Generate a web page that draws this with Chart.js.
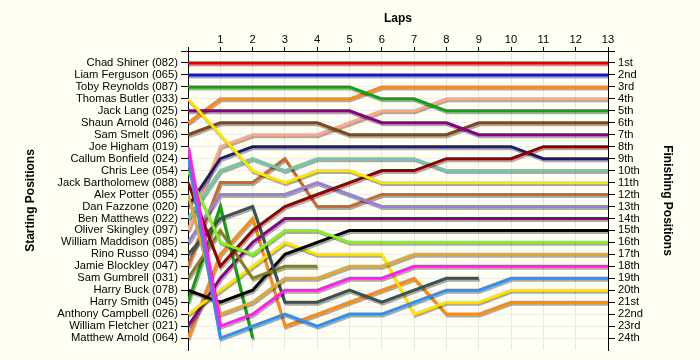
<!DOCTYPE html>
<html><head><meta charset="utf-8">
<script src="https://cdn.jsdelivr.net/npm/chart.js@4/dist/chart.umd.min.js"></script>
<style>html,body{margin:0;padding:0;background:#fffff4;}#wrap{width:700px;height:360px;}</style>
</head><body><div id="wrap"><canvas id="c" width="700" height="360"></canvas></div>
<script>
const laps = [0,1,2,3,4,5,6,7,8,9,10,11,12,13];
const startingNames = ['Chad Shiner (082)','Liam Ferguson (065)','Toby Reynolds (087)','Thomas Butler (033)','Jack Lang (025)','Shaun Arnold (046)','Sam Smelt (096)','Joe Higham (019)','Callum Bonfield (024)','Chris Lee (054)','Jack Bartholomew (088)','Alex Potter (055)','Dan Fazzone (020)','Ben Matthews (022)','Oliver Skingley (097)','William Maddison (085)','Rino Russo (094)','Jamie Blockley (047)','Sam Gumbrell (031)','Harry Buck (078)','Harry Smith (045)','Anthony Campbell (026)','William Fletcher (021)','Matthew Arnold (064)'];
const finishingLabels = ['1st','2nd','3rd','4th','5th','6th','7th','8th','9th','10th','11th','12th','13th','14th','15th','16th','17th','18th','19th','20th','21st','22nd','23rd','24th'];

const chadShiner      = [1,1,1,1,1,1,1,1,1,1,1,1,1,1];
const liamFerguson    = [2,2,2,2,2,2,2,2,2,2,2,2,2,2];
const tobyReynolds    = [3,3,3,3,3,3,4,4,5,5,5,5,5,5];
const thomasButler    = [4,7,10,11,10,10,11,11,11,11,11,11,11,11];
const jackLang        = [5,5,5,5,5,5,6,6,6,7,7,7,7,7];
const shaunArnold     = [6,4,4,4,4,4,3,3,3,3,3,3,3,3];
const samSmelt        = [7,6,6,6,6,7,7,7,7,6,6,6,6,6];
const joeHigham       = [8,23,22,20,20,19,19,18,18,18,18,18,18,18];
const callumBonfield  = [9,24,23,22,23,22,22,21,20,20,19,19,19,19];
const chrisLee        = [10,16,17,15,15,16,16,16,16,16,16,16,16,16];
const jackBartholomew = [11,18,15,13,12,11,10,10,9,9,9,8,8,8];
const alexPotter      = [12,22,21,19,19,18,18,17,17,17,17,17,17,17];
const danFazzone      = [13,9,8,8,8,8,8,8,8,8,8,9,9,9];
const benMatthews     = [14,10,9,10,9,9,9,9,10,10,10,10,10,10];
const oliverSkingley  = [15,8,7,7,7,6,5,5,4,4,4,4,4,4];
const williamMaddison = [16,12,12,12,11,12,13,13,13,13,13,13,13,13];
const rinoRusso       = [17,14,13,21,21,20,21,20,19,19];
const jamieBlockley   = [18,11,11,9,13,13,12,12,12,12,12,12,12,12];
const samGumbrell     = [19,15,19,18,18];
const harryBuck       = [20,21,20,17,16,15,15,15,15,15,15,15,15,15];
const harrySmith      = [21,13,24];
const anthonyCampbell = [22,20,18,16,17,17,17,22,21,21,20,20,20,20];
const williamFletcher = [23,19,16,14,14,14,14,14,14,14,14,14,14,14];
const matthewArnold   = [24,17,14,23,22,21,20,19,22,22,21,21,21,21];

const driverSeries = [chadShiner,liamFerguson,tobyReynolds,thomasButler,jackLang,shaunArnold,samSmelt,joeHigham,callumBonfield,chrisLee,jackBartholomew,alexPotter,danFazzone,benMatthews,oliverSkingley,williamMaddison,rinoRusso,jamieBlockley,samGumbrell,harryBuck,harrySmith,anthonyCampbell,williamFletcher,matthewArnold];

const lineColors = ['#e00000','#1515d0','#12a012','#ffe600','#880088','#ff8a10','#804818','#ff20f0','#3090f0','#88f020','#900000','#dcaa38','#1c1c6c','#70c8a8','#ffa888','#9880d8','#3c5050','#c86a30','#888020','#000000','#12a012','#ffe600','#880088','#ff8a10'];

const bgPlugin = {id:'bg', beforeDraw(chart){const c=chart.ctx;c.save();c.fillStyle='#fffff4';c.fillRect(0,0,chart.width,chart.height);c.restore();}};
const shadowPlugin = {id:'shadow',
  beforeDatasetDraw(chart){const c=chart.ctx;c.save();c.shadowColor='rgba(0,0,0,0.33)';c.shadowOffsetX=1;c.shadowOffsetY=2;c.shadowBlur=0;},
  afterDatasetDraw(chart){chart.ctx.restore();}};
const axisExtPlugin = {id:'axisExt', afterDraw(chart){const a=chart.chartArea,c=chart.ctx;c.save();c.strokeStyle='#000';c.lineWidth=1;c.beginPath();c.moveTo(a.left-7,a.top+0.5);c.lineTo(a.right+7,a.top+0.5);c.stroke();c.restore();}};

const datasets = driverSeries.map((s,i)=>({
  label: startingNames[i],
  data: s.map((v,k)=>({x:laps[k], y:v})),
  borderColor: lineColors[i],
  backgroundColor: lineColors[i],
  borderWidth: 3,
  pointRadius: 0,
  tension: 0,
  fill: false,
  yAxisID: 'y'
}));

const fontLbl = {family:'Liberation Sans, Arial, sans-serif', size:11.2};
const fontTitle = {family:'Liberation Sans, Arial, sans-serif', size:12, weight:'bold'};

new Chart(document.getElementById('c'), {
  type:'line',
  data:{datasets},
  plugins:[bgPlugin, shadowPlugin, axisExtPlugin],
  options:{
    responsive:false, animation:false, devicePixelRatio:1,
    layout:{padding:{left:0,right:0,top:0,bottom:10}},
    plugins:{legend:{display:false}, tooltip:{enabled:false}},
    scales:{
      x:{type:'linear', position:'top', min:0, max:13,
        afterBuildTicks(s){s.ticks = laps.map(v=>({value:v}));},
        afterFit(s){s.height=51;},
        ticks:{font:fontLbl, color:'#000', padding:0, maxRotation:0, autoSkip:false, callback:v=>v===0?'':String(v)},
        grid:{color:'#e6e6e6', tickColor:'#000', tickLength:4},
        border:{color:'#000', width:1},
        title:{display:true, text:'Laps', font:fontTitle, color:'#000', padding:{top:11,bottom:0}}
      },
      y:{type:'linear', position:'left', min:0, max:25, reverse:true,
        afterBuildTicks(s){s.ticks = startingNames.map((_,i)=>({value:i+1}));},
        afterFit(s){s.width=188;},
        ticks:{font:fontLbl, color:'#000', padding:3, autoSkip:false, callback:v=>startingNames[v-1]||''},
        grid:{color:'#ececec', tickColor:'#000', tickLength:7},
        border:{color:'#000', width:1},
        title:{display:true, text:'Starting Positions', font:fontTitle, color:'#000', padding:{top:23,bottom:0}}
      },
      y2:{type:'linear', position:'right', min:0, max:25, reverse:true,
        afterBuildTicks(s){s.ticks = finishingLabels.map((_,i)=>({value:i+1}));},
        afterFit(s){s.width=92;},
        ticks:{font:fontLbl, color:'#000', padding:3, autoSkip:false, callback:v=>finishingLabels[v-1]||''},
        grid:{drawOnChartArea:false, tickColor:'#000', tickLength:7},
        border:{color:'#000', width:1},
        title:{display:true, text:'Finishing Positions', font:fontTitle, color:'#000', padding:{top:25,bottom:0}}
      }
    }
  }
});
</script></body></html>
